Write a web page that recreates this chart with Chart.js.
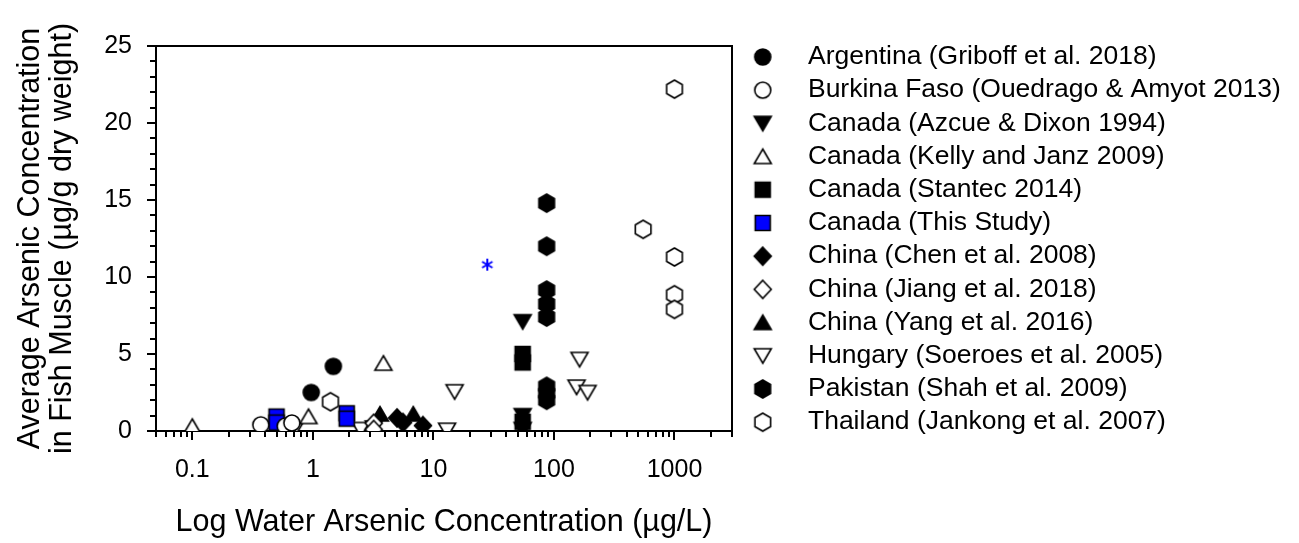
<!DOCTYPE html>
<html><head><meta charset="utf-8">
<script src="https://cdn.jsdelivr.net/npm/chart.js@4.4.1/dist/chart.umd.min.js"></script>
<style>html,body{margin:0;padding:0;background:#fff;}#wrap{width:1299px;height:543px;}</style>
</head><body><div id="wrap"><canvas id="c" width="1299" height="543"></canvas></div>
<script>
// ---------- DATA ----------
const seriesLabels = ['Argentina (Griboff et al. 2018)', 'Burkina Faso (Ouedrago & Amyot 2013)', 'Canada (Azcue & Dixon 1994)', 'Canada (Kelly and Janz 2009)', 'Canada (Stantec 2014)', 'Canada (This Study)', 'China (Chen et al. 2008)', 'China (Jiang et al. 2018)', 'China (Yang et al. 2016)', 'Hungary (Soeroes et al. 2005)', 'Pakistan (Shah et al. 2009)', 'Thailand (Jankong et al. 2007)'];
const argentinaX = [0.97, 1.48];            const argentinaY = [2.5, 4.2];
const burkinaX = [0.37, 0.59, 0.67];        const burkinaY = [0.4, 0.32, 0.52];
const azcueX = [55, 55, 55];                const azcueY = [7.1, 1.0, 0.1];
const kellyX = [0.1, 0.92, 3.85];           const kellyY = [0.3, 0.94, 4.4];
const stantecX = [55, 55, 55];              const stantecY = [5.0, 4.45, 0.6];
const thisStudyX = [0.5, 0.5, 1.91, 1.91];  const thisStudyY = [0.94, 0.55, 1.15, 0.8];
const chenX = [5.0, 5.6, 8.2];              const chenY = [0.85, 0.55, 0.35];
const jiangX = [3.2, 3.2];                  const jiangY = [0.5, 0.1];
const yangX = [3.6, 6.8];                   const yangY = [1.1, 1.1];
const hungaryX = [0.7, 2.5, 3.2, 13, 15, 154, 163, 190];
const hungaryY = [0.05, 0.1, 0.2, 0.05, 2.55, 2.85, 4.65, 2.5];
const pakistanX = [87, 87, 87, 87, 87, 87, 87, 87];
const pakistanY = [14.8, 12.0, 9.15, 8.25, 7.4, 2.9, 2.45, 2.0];
const thailandX = [1.4, 550, 1000, 1000, 1000, 1000];
const thailandY = [1.9, 13.1, 22.2, 11.3, 8.85, 7.9];
const asteriskX = [28];                     const asteriskY = [10.8];
const xMajorTicks = [0.1, 1, 10, 100, 1000];
const xTickLabels = ['0.1', '1', '10', '100', '1000'];
const yMajorTicks = [0, 5, 10, 15, 20, 25];
const yTickLabels = ['0', '5', '10', '15', '20', '25'];
const xTitle = 'Log Water Arsenic Concentration (µg/L)';
const yTitle = ['Average Arsenic Concentration', 'in Fish Muscle (µg/g dry weight)'];

const seriesX = [argentinaX, burkinaX, azcueX, kellyX, stantecX, thisStudyX, chenX, jiangX, yangX, hungaryX, pakistanX, thailandX];
const seriesY = [argentinaY, burkinaY, azcueY, kellyY, stantecY, thisStudyY, chenY, jiangY, yangY, hungaryY, pakistanY, thailandY];

// ---------- STYLES ----------
const shapes = ['circle','circle','triDown','triUp','square','square','diamond','diamond','triUp','triDown','hex','hex'];
const fills  = ['#000','#fff','#000','#fff','#000','#0000ff','#000','#fff','#000','#fff','#000','#fff'];
const LEGEND_WIDTH = 567;

// let the right-hand legend take the width it needs (Chart.js caps side boxes otherwise)
const LegendCls = Chart.registry.getPlugin('legend')._element;
const origFit = LegendCls.prototype.fit;
LegendCls.prototype.fit = function () { origFit.call(this); if (!this.isHorizontal()) this.width = LEGEND_WIDTH; };

function drawShape(ctx, shape, cx, cy, fill) {
  ctx.beginPath();
  if (shape === 'circle') ctx.arc(cx, cy, 8, 0, Math.PI * 2);
  else if (shape === 'square') ctx.rect(cx - 7.5, cy - 7.5, 15, 15);
  else if (shape === 'triUp') { ctx.moveTo(cx, cy - 7.5); ctx.lineTo(cx + 8.5, cy + 7); ctx.lineTo(cx - 8.5, cy + 7); ctx.closePath(); }
  else if (shape === 'triDown') { ctx.moveTo(cx, cy + 7.5); ctx.lineTo(cx + 8.5, cy - 7); ctx.lineTo(cx - 8.5, cy - 7); ctx.closePath(); }
  else if (shape === 'diamond') { ctx.moveTo(cx, cy - 9); ctx.lineTo(cx + 8.5, cy); ctx.lineTo(cx, cy + 9); ctx.lineTo(cx - 8.5, cy); ctx.closePath(); }
  else if (shape === 'hex') {
    for (let k = 0; k < 6; k++) { const a = (-90 + 60 * k) * Math.PI / 180; const px = cx + 9 * Math.cos(a), py = cy + 9 * Math.sin(a); if (k === 0) ctx.moveTo(px, py); else ctx.lineTo(px, py); }
    ctx.closePath();
  }
  ctx.fillStyle = fill; ctx.fill();
  ctx.lineWidth = 1.6; ctx.strokeStyle = '#000'; ctx.lineJoin = 'miter'; ctx.stroke();
}
function markerCanvas(shape, fill, w, h, cx, cy) {
  const c = document.createElement('canvas'); c.width = w; c.height = h;
  drawShape(c.getContext('2d'), shape, cx, cy, fill);
  return c;
}
function asteriskCanvas() {
  const c = document.createElement('canvas'); c.width = 16; c.height = 16;
  const g = c.getContext('2d'); g.strokeStyle = '#0000ff'; g.lineWidth = 2;
  for (let k = 0; k < 3; k++) { const a = (90 + 60 * k) * Math.PI / 180; g.beginPath(); g.moveTo(8 - 6 * Math.cos(a), 8 - 6 * Math.sin(a)); g.lineTo(8 + 6 * Math.cos(a), 8 + 6 * Math.sin(a)); g.stroke(); }
  return c;
}
const pointImgs = shapes.map((s, i) => markerCanvas(s, fills[i], 24, 24, 12, 12));
const legendImgs = shapes.map((s, i) => markerCanvas(s, fills[i], 32, 26, 12, 13));

const datasets = seriesLabels.map((lab, i) => ({
  label: lab,
  data: seriesX[i].map((x, j) => ({ x: x, y: seriesY[i][j] })),
  pointStyle: pointImgs[i], pointRadius: 9, pointHoverRadius: 9, showLine: false
}));
datasets.push({ label: 'asterisk', data: asteriskX.map((x, j) => ({ x: x, y: asteriskY[j] })), pointStyle: asteriskCanvas(), pointRadius: 8, showLine: false });

const minorTicks = {
  id: 'minorTicks',
  afterDraw(chart) {
    const { ctx, scales: { x, y } } = chart;
    ctx.save(); ctx.strokeStyle = '#000'; ctx.lineWidth = 2;
    [0.01, 0.1, 1, 10, 100, 1000].forEach(d => {
      for (let m = 2; m <= 9; m++) {
        const v = m * d;
        if (v < x.min - 1e-9 || v > x.max + 1e-9) continue;
        const px = Math.round(x.getPixelForValue(v));
        ctx.beginPath(); ctx.moveTo(px, y.bottom); ctx.lineTo(px, y.bottom + 6); ctx.stroke();
      }
    });
    for (let v = y.min + 1; v < y.max; v++) {
      if (v % 5 === 0) continue;
      const py = Math.round(y.getPixelForValue(v));
      ctx.beginPath(); ctx.moveTo(x.left, py); ctx.lineTo(x.left - 6, py); ctx.stroke();
    }
    ctx.restore();
  }
};

Chart.defaults.font.family = "'Liberation Sans', Arial, sans-serif";
Chart.defaults.color = '#000';

new Chart(document.getElementById('c'), {
  type: 'scatter',
  data: { datasets: datasets },
  options: {
    responsive: false, animation: false, devicePixelRatio: 1,
    layout: { padding: { left: 0, right: 0, top: 37, bottom: 0 } },
    plugins: {
      tooltip: { enabled: false },
      legend: {
        position: 'right', align: 'start',
        labels: {
          usePointStyle: true, pointStyleWidth: 56, padding: 6.7,
          font: { size: 26.5 }, color: '#000',
          generateLabels: () => seriesLabels.map((t, i) => ({ text: t, pointStyle: legendImgs[i], datasetIndex: i, hidden: false, lineWidth: 0, strokeStyle: 'rgba(0,0,0,0)', fillStyle: 'rgba(0,0,0,0)' }))
        }
      }
    },
    scales: {
      x: {
        type: 'logarithmic', position: 'bottom', min: 0.05, max: 3000,
        afterBuildTicks: s => { s.ticks = xMajorTicks.map(v => ({ value: v })); },
        afterFit: s => { s.height = 112; },
        ticks: { autoSkip: false, maxRotation: 0, padding: 15, font: { size: 25 }, color: '#000', callback: (v, i) => xTickLabels[i] },
        grid: { drawOnChartArea: false, drawTicks: true, tickLength: 9, color: '#000', lineWidth: 2 },
        border: { display: true, color: '#000', width: 2 },
        title: { display: true, text: xTitle, font: { size: 30.5, lineHeight: 1.05 }, color: '#000', padding: { top: 0, bottom: 4 } }
      },
      y: {
        type: 'linear', position: 'left', min: 0, max: 25,
        afterBuildTicks: s => { s.ticks = yMajorTicks.map(v => ({ value: v })); },
        afterFit: s => { s.width = 156; },
        ticks: { padding: 15, font: { size: 25 }, color: '#000', callback: (v, i) => yTickLabels[i] },
        grid: { drawOnChartArea: false, drawTicks: true, tickLength: 9, color: '#000', lineWidth: 2 },
        border: { display: true, color: '#000', width: 2 },
        title: { display: true, text: yTitle, font: { size: 30.5, lineHeight: 1.05 }, color: '#000', padding: { top: 15, bottom: 0 } }
      },
      x2: {
        type: 'linear', position: 'top', min: 0, max: 1, display: true,
        afterFit: s => { s.height = 9; },
        ticks: { display: false }, grid: { display: false, drawTicks: false },
        border: { display: true, color: '#000', width: 2 }
      },
      y2: {
        type: 'linear', position: 'right', min: 0, max: 1, display: true,
        afterFit: s => { s.width = 0; },
        ticks: { display: false }, grid: { display: false, drawTicks: false },
        border: { display: true, color: '#000', width: 2 }
      }
    }
  },
  plugins: [minorTicks]
});
</script>
</body></html>
